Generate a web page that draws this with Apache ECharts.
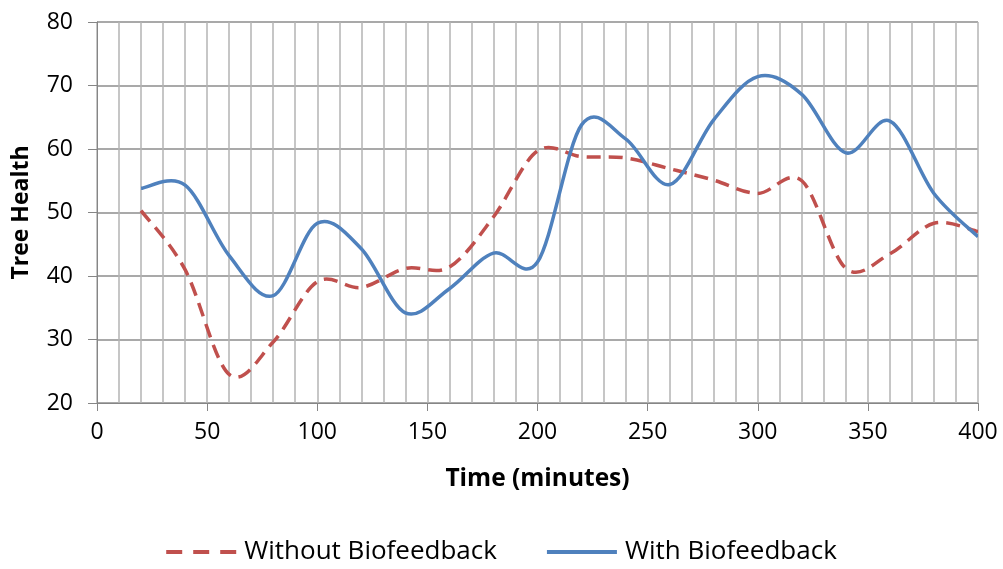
<!DOCTYPE html>
<html>
<head>
<meta charset="utf-8">
<script src="https://cdn.jsdelivr.net/npm/echarts@6/dist/echarts.min.js"></script>
<style>
html,body{margin:0;padding:0;background:#fff;}
#chart{width:1003px;height:569px;}
</style>
</head>
<body>
<div id="chart"></div>
<script>
const times = [20, 40, 60, 80, 100, 120, 140, 160, 180, 200, 220, 240, 260, 280, 300, 320, 340, 360, 380, 400];
const withoutBiofeedback = [50.3, 41.0, 24.5, 29.6, 39.1, 38.2, 41.2, 41.4, 49.3, 59.7, 58.8, 58.6, 56.9, 55.1, 53.0, 55.0, 41.2, 43.5, 48.3, 47.0];
const withBiofeedback = [53.8, 54.3, 43.2, 36.9, 48.3, 44.3, 34.2, 38.0, 43.6, 42.2, 63.8, 61.6, 54.4, 64.6, 71.4, 68.6, 59.4, 64.4, 53.0, 46.2];
const seriesNames = ['Without Biofeedback', 'With Biofeedback'];
const xAxisName = 'Time (minutes)';
const yAxisName = 'Tree Health';

const font = '"Open Sans", "Liberation Sans", sans-serif';
const RED = '#C0504D';
const BLUE = '#4F81BD';
const chart = echarts.init(document.getElementById('chart'), null, {renderer: 'canvas'});
const pair = (xs, ys) => xs.map((x, i) => [x, ys[i]]);

// Smoothed (Catmull-Rom style) path through the points, placed with the chart's own axes
function smoothPath(api, xs, ys) {
  const p = xs.map((x, i) => api.coord([x, ys[i]]));
  let d = 'M' + p[0][0] + ',' + p[0][1];
  for (let i = 0; i < p.length - 1; i++) {
    const p0 = p[i - 1] || p[i], p1 = p[i], p2 = p[i + 1], p3 = p[i + 2] || p[i + 1];
    const c1x = p1[0] + (p2[0] - p0[0]) / 6, c1y = p1[1] + (p2[1] - p0[1]) / 6;
    const c2x = p2[0] - (p3[0] - p1[0]) / 6, c2y = p2[1] - (p3[1] - p1[1]) / 6;
    d += ' C' + c1x + ',' + c1y + ' ' + c2x + ',' + c2y + ' ' + p2[0] + ',' + p2[1];
  }
  return d;
}

function makeSeries(name, ys, color, dash, z) {
  return {
    name: name,
    type: 'custom',
    coordinateSystem: 'cartesian2d',
    data: pair(times, ys),
    encode: {x: 0, y: 1},
    itemStyle: {color: color},
    z: z,
    clip: true,
    renderItem: function (params, api) {
      if (params.dataIndex !== 0) return null;
      return {
        type: 'path',
        shape: {pathData: smoothPath(api, times, ys)},
        style: {fill: 'none', stroke: color, lineWidth: 3.5, lineDash: dash, lineCap: 'butt', lineJoin: 'round'},
        silent: true
      };
    }
  };
}

const dashIcon = 'path://M0,0h16v4h-16z M27,0h16v4h-16z M54,0h16v4h-16z';

chart.setOption({
  animation: false,
  backgroundColor: '#ffffff',
  textStyle: {fontFamily: font},
  grid: {left: 97, right: 25, top: 22, bottom: 166, containLabel: false},
  legend: {
    bottom: -1,
    left: 'center',
    itemWidth: 70,
    itemHeight: 4,
    itemGap: 50,
    textStyle: {fontFamily: font, fontSize: 26, color: '#000', padding: [0, 0, 0, 3]},
    data: [
      {name: seriesNames[0], icon: dashIcon, itemStyle: {color: RED}},
      {name: seriesNames[1], icon: 'rect', itemStyle: {color: BLUE}}
    ]
  },
  xAxis: {
    type: 'value',
    min: 0, max: 400, interval: 50,
    name: xAxisName,
    nameLocation: 'middle',
    nameGap: 64,
    nameTextStyle: {fontFamily: font, fontSize: 24.5, fontWeight: 'bold', color: '#000'},
    axisLine: {show: true, lineStyle: {color: '#868686', width: 1}},
    axisTick: {show: true, length: 8, lineStyle: {color: '#868686'}},
    axisLabel: {fontFamily: font, fontSize: 23, color: '#000', margin: 18},
    splitLine: {show: true, lineStyle: {color: '#b4b4b4', width: 1.5}},
    minorTick: {show: false, splitNumber: 5},
    minorSplitLine: {show: true, lineStyle: {color: '#b4b4b4', width: 1.5}}
  },
  yAxis: {
    type: 'value',
    min: 20, max: 80, interval: 10,
    name: yAxisName,
    nameLocation: 'middle',
    nameGap: 64,
    nameTextStyle: {fontFamily: font, fontSize: 23, fontWeight: 'bold', color: '#000'},
    axisLine: {show: true, lineStyle: {color: '#868686', width: 1}},
    axisTick: {show: true, length: 9, lineStyle: {color: '#868686'}},
    axisLabel: {fontFamily: font, fontSize: 23, color: '#000', margin: 24},
    splitLine: {show: true, lineStyle: {color: '#8c8c8c', width: 1.5}}
  },
  series: [
    makeSeries(seriesNames[0], withoutBiofeedback, RED, [14, 8], 3),
    makeSeries(seriesNames[1], withBiofeedback, BLUE, null, 4)
  ]
});
</script>
</body>
</html>
